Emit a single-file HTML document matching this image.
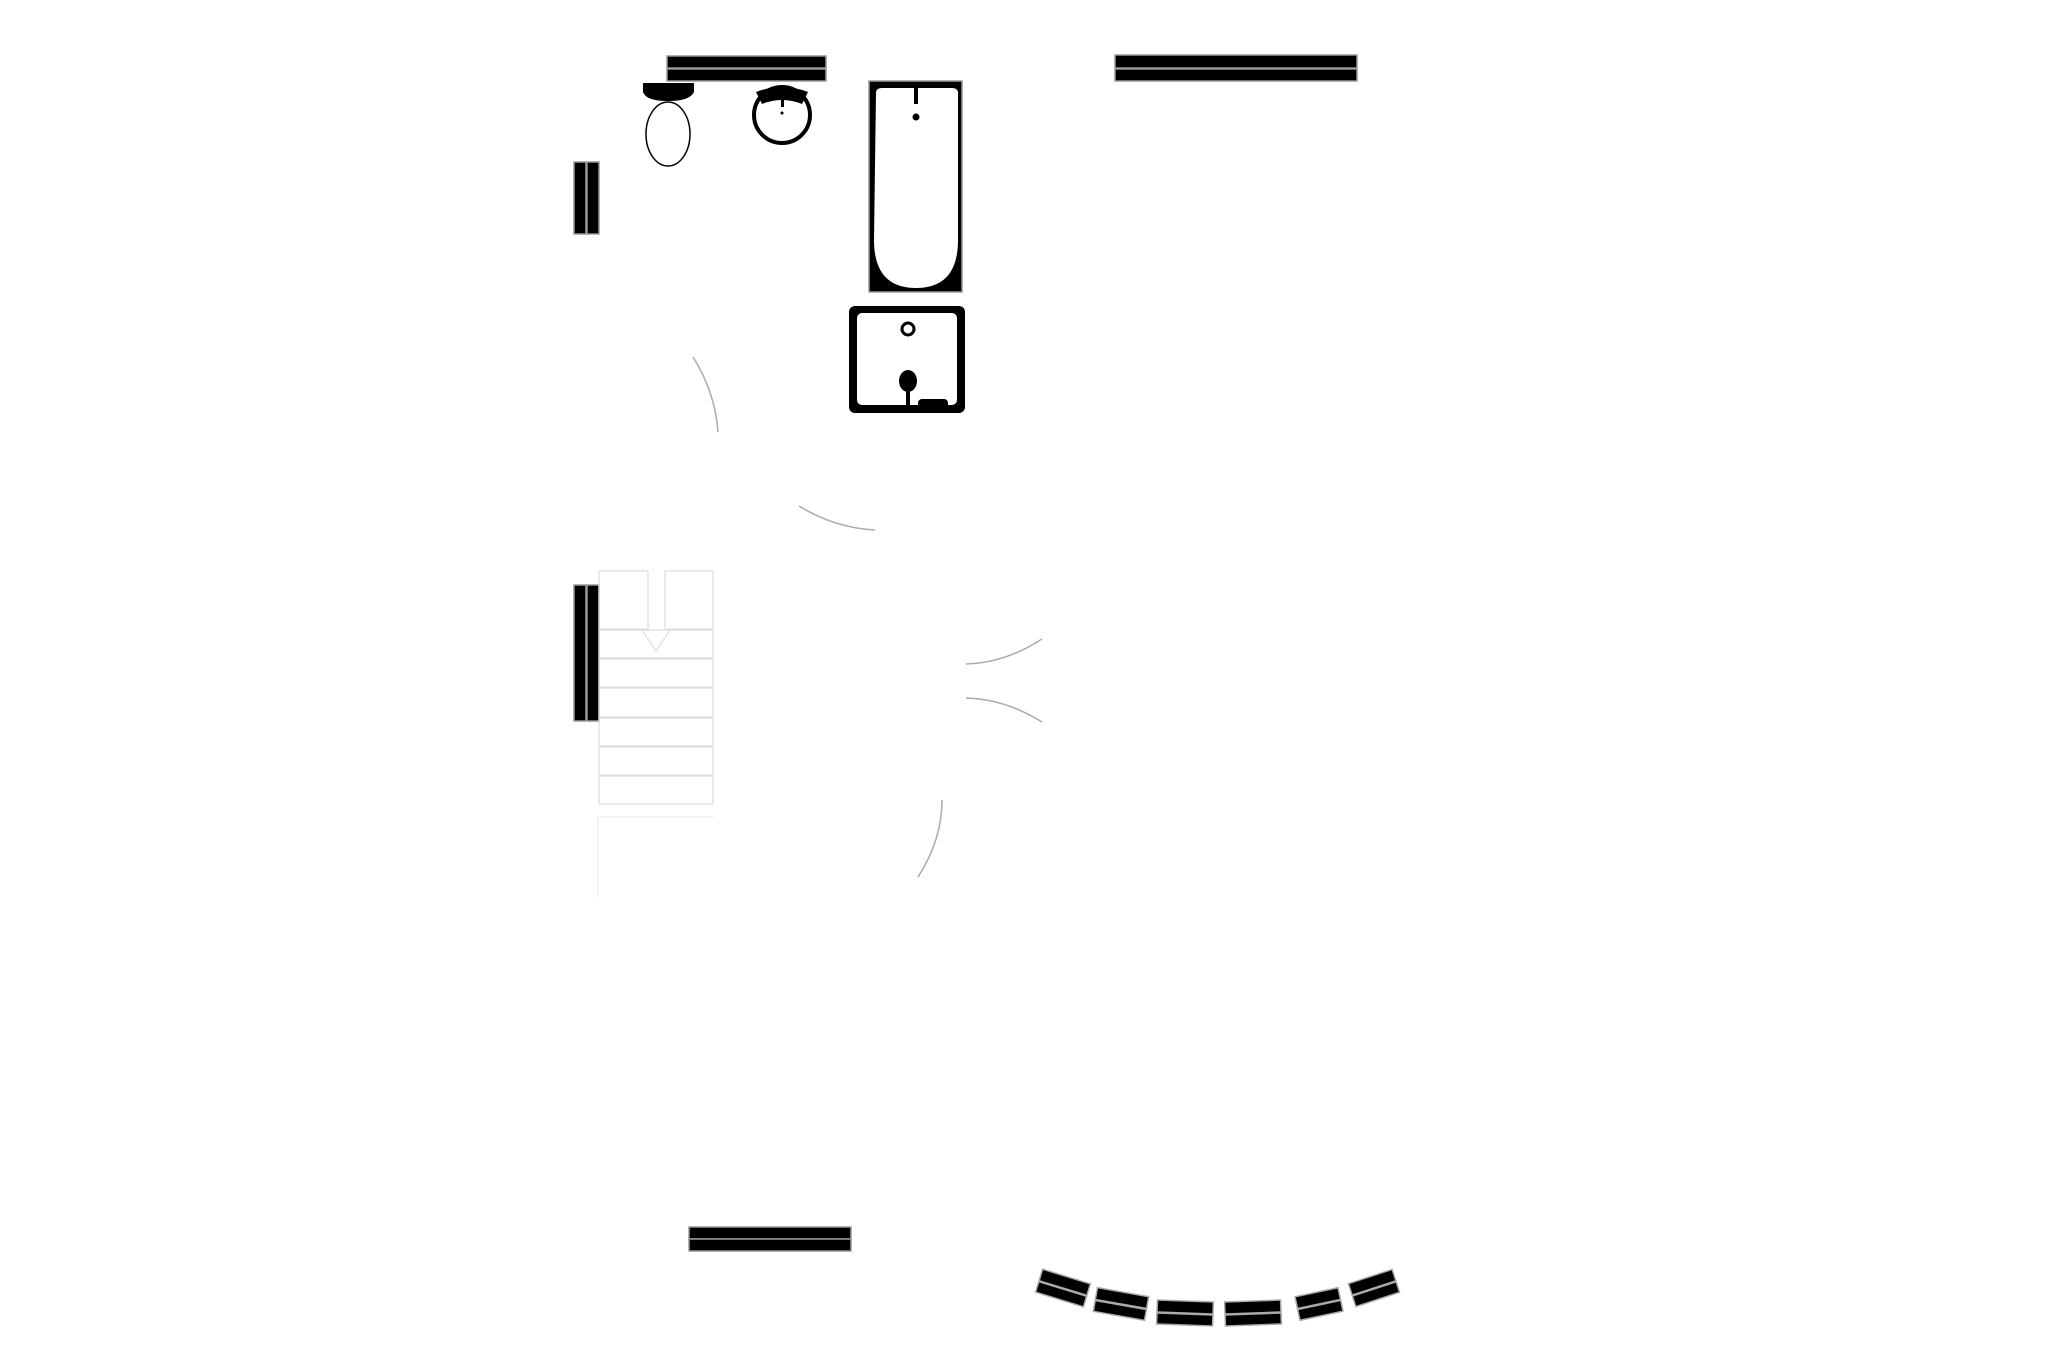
<!DOCTYPE html>
<html><head><meta charset="utf-8"><style>html,body{margin:0;padding:0;background:#fff;}svg{display:block}</style></head>
<body>
<svg width="2057" height="1371" viewBox="0 0 2057 1371" xmlns="http://www.w3.org/2000/svg">
<rect width="2057" height="1371" fill="#fff"/>
<g stroke="#999" stroke-width="1.5">
<rect x="667" y="56" width="159" height="12" fill="#000"/>
<rect x="667" y="69" width="159" height="12" fill="#000"/>
<rect x="1115" y="55" width="242" height="13" fill="#000"/>
<rect x="1115" y="69" width="242" height="12" fill="#000"/>
<rect x="574" y="162" width="12" height="72" fill="#000"/>
<rect x="587" y="162" width="12" height="72" fill="#000"/>
<rect x="574" y="585" width="12" height="136" fill="#000"/>
<rect x="587" y="585" width="12" height="136" fill="#000"/>
<rect x="689" y="1227" width="162" height="12" fill="#000"/>
<rect x="689" y="1239" width="162" height="12" fill="#000"/>
</g>
<path d="M643 83 H694 V92 Q690 101 668 101 Q646 101 643 92 Z" fill="#000"/>
<ellipse cx="668" cy="134" rx="22" ry="32" fill="#fff" stroke="#000" stroke-width="1.5"/>
<circle cx="782" cy="115" r="28" fill="#fff" stroke="#000" stroke-width="4"/>
<path d="M756 92 Q782 82 808 92 L802 104 Q782 96 762 104 Z" fill="#000"/>
<rect x="781" y="92" width="3" height="15" fill="#000"/>
<circle cx="782" cy="113" r="1.5" fill="#000"/>
<rect x="869" y="81" width="93" height="211" fill="#000" stroke="#999" stroke-width="1.5"/>
<path d="M876 93 Q876 88 882 88 H952 Q958 88 958 93 V240 Q958 288 916 288 Q874 288 874 240 Z" fill="#fff"/>
<rect x="914" y="86" width="4" height="18" fill="#000"/>
<circle cx="916" cy="117" r="3.5" fill="#000"/>
<rect x="849" y="306" width="116" height="107" rx="6" fill="#000"/>
<rect x="857" y="313" width="100" height="92" rx="5" fill="#fff"/>
<circle cx="908" cy="329" r="6" fill="#fff" stroke="#000" stroke-width="3"/>
<ellipse cx="908" cy="381" rx="9" ry="11" fill="#000"/>
<rect x="906" y="388" width="4" height="20" fill="#000"/>
<rect x="918" y="399" width="30" height="9" rx="4" fill="#000"/>
<g fill="none" stroke="#aaa" stroke-width="1.5">
<path d="M693 357 Q715 392 718 432"/>
<path d="M799 506 Q835 528 875 530"/>
<path d="M966 664 Q1005 663 1042 639"/>
<path d="M966 698 Q1005 699 1042 722"/>
<path d="M942 800 Q942 840 918 877"/>
</g>
<g fill="none" stroke="#ddd" stroke-width="1.2">
<rect x="599" y="571" width="49" height="58"/>
<rect x="665" y="571" width="48" height="58"/>
<rect x="599" y="630" width="114" height="28"/>
<rect x="599" y="659" width="114" height="28"/>
<rect x="599" y="688" width="114" height="29"/>
<rect x="599" y="718" width="114" height="28"/>
<rect x="599" y="747" width="114" height="28"/>
<rect x="599" y="776" width="114" height="28"/>
<path d="M642 630 L656 651 L670 630"/>
<path d="M598 817 V898 M598 817 H714" stroke="#eee"/>
</g>
<g stroke="#aaa" stroke-width="1.5">
<g transform="translate(1063,1288) rotate(17)"><rect x="-25" y="-12" width="50" height="12" fill="#000"/><rect x="-25" y="1" width="50" height="11" fill="#000"/></g>
<g transform="translate(1121,1304) rotate(10)"><rect x="-26" y="-12" width="52" height="12" fill="#000"/><rect x="-26" y="1" width="52" height="11" fill="#000"/></g>
<g transform="translate(1185,1313) rotate(2)"><rect x="-28" y="-12" width="56" height="12" fill="#000"/><rect x="-28" y="1" width="56" height="11" fill="#000"/></g>
<g transform="translate(1253,1313) rotate(-2)"><rect x="-28" y="-12" width="56" height="12" fill="#000"/><rect x="-28" y="1" width="56" height="11" fill="#000"/></g>
<g transform="translate(1319,1304) rotate(-12)"><rect x="-22" y="-12" width="44" height="12" fill="#000"/><rect x="-22" y="1" width="44" height="11" fill="#000"/></g>
<g transform="translate(1374,1288) rotate(-18)"><rect x="-23" y="-12" width="46" height="12" fill="#000"/><rect x="-23" y="1" width="46" height="11" fill="#000"/></g>
</g>
</svg>
</body></html>
